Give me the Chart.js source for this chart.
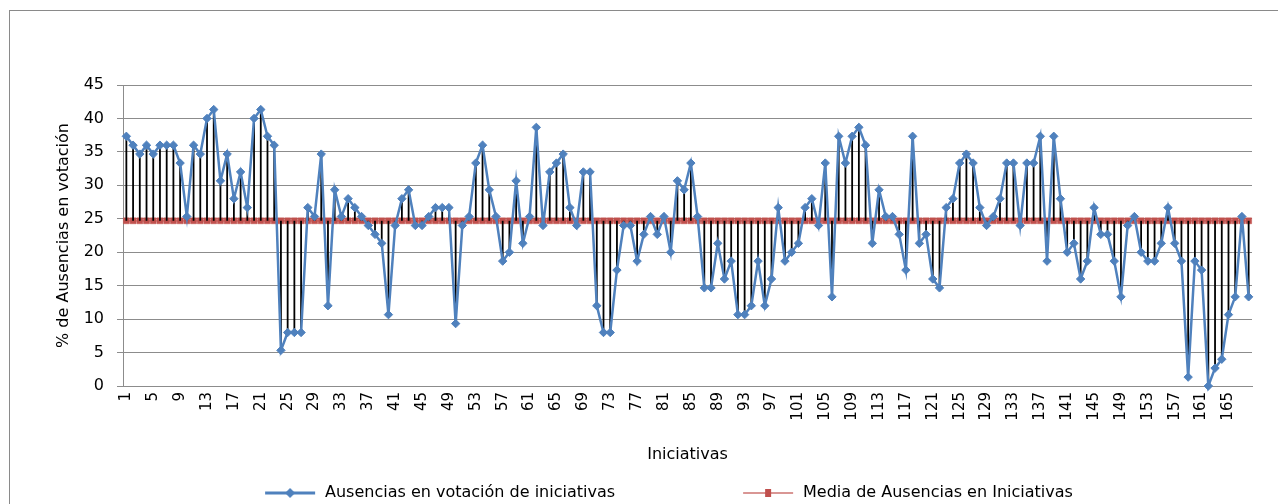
<!DOCTYPE html>
<html>
<head>
<meta charset="utf-8">
<script src="https://cdn.jsdelivr.net/npm/chart.js@4.4.1/dist/chart.umd.min.js"></script>
<style>
html,body{margin:0;padding:0;background:#fff;overflow:hidden;width:1278px;height:504px;}
#frame{position:absolute;left:9px;top:10px;width:1269px;height:494px;border-left:1px solid #8a8a8a;border-top:1px solid #8a8a8a;box-sizing:border-box;}
#wrap{position:absolute;left:0;top:0;width:1278px;height:504px;}
</style>
</head>
<body>
<div id="frame"></div>
<div id="wrap"><canvas id="c" width="1278" height="504"></canvas></div>
<script>
// ---- data ----
const categories = [
  1,2,3,4,5,6,7,8,9,10,11,12,13,14,15,16,17,18,19,20,
  21,22,23,24,25,26,27,28,29,30,31,32,33,34,35,36,37,38,39,40,
  41,42,43,44,45,46,47,48,49,50,51,52,53,54,55,56,57,58,59,60,
  61,62,63,64,65,66,67,68,69,70,71,72,73,74,75,76,77,78,79,80,
  81,82,83,84,85,86,87,88,89,90,91,92,93,94,95,96,97,98,99,100,
  101,102,103,104,105,106,107,108,109,110,111,112,113,114,115,116,117,118,119,120,
  121,122,123,124,125,126,127,128,129,130,131,132,133,134,135,136,137,138,139,140,
  141,142,143,144,145,146,147,148,149,150,151,152,153,154,155,156,157,158,159,160,
  161,162,163,164,165,166,167,168
];
const ausencias = [
  37.33, 36.0, 34.67, 36.0, 34.67, 36.0, 36.0, 36.0, 33.33, 25.33,
  36.0, 34.67, 40.0, 41.33, 30.67, 34.67, 28.0, 32.0, 26.67, 40.0,
  41.33, 37.33, 36.0, 5.33, 8.0, 8.0, 8.0, 26.67, 25.33, 34.67,
  12.0, 29.33, 25.33, 28.0, 26.67, 25.33, 24.0, 22.67, 21.33, 10.67,
  24.0, 28.0, 29.33, 24.0, 24.0, 25.33, 26.67, 26.67, 26.67, 9.33,
  24.0, 25.33, 33.33, 36.0, 29.33, 25.33, 18.67, 20.0, 30.67, 21.33,
  25.33, 38.67, 24.0, 32.0, 33.33, 34.67, 26.67, 24.0, 32.0, 32.0,
  12.0, 8.0, 8.0, 17.33, 24.0, 24.0, 18.67, 22.67, 25.33, 22.67,
  25.33, 20.0, 30.67, 29.33, 33.33, 25.33, 14.67, 14.67, 21.33, 16.0,
  18.67, 10.67, 10.67, 12.0, 18.67, 12.0, 16.0, 26.67, 18.67, 20.0,
  21.33, 26.67, 28.0, 24.0, 33.33, 13.33, 37.33, 33.33, 37.33, 38.67,
  36.0, 21.33, 29.33, 25.33, 25.33, 22.67, 17.33, 37.33, 21.33, 22.67,
  16.0, 14.67, 26.67, 28.0, 33.33, 34.67, 33.33, 26.67, 24.0, 25.33,
  28.0, 33.33, 33.33, 24.0, 33.33, 33.33, 37.33, 18.67, 37.33, 28.0,
  20.0, 21.33, 16.0, 18.67, 26.67, 22.67, 22.67, 18.67, 13.33, 24.0,
  25.33, 20.0, 18.67, 18.67, 21.33, 26.67, 21.33, 18.67, 1.33, 18.67,
  17.33, 0, 2.67, 4.0, 10.67, 13.33, 25.33, 13.33
];
const mediaValue = 24.7;
const media = categories.map(() => mediaValue);
const xTickLabels = ['1','5','9','13','17','21','25','29','33','37','41','45','49','53','57','61','65','69','73','77','81','85','89','93','97','101','105','109','113','117','121','125','129','133','137','141','145','149','153','157','161','165'];
const yTickValues = [0,5,10,15,20,25,30,35,40,45];
const seriesNames = ['Ausencias en votación de iniciativas', 'Media de Ausencias en Iniciativas'];
const xTitle = 'Iniciativas';
const yTitle = '% de Ausencias en votación';

// ---- styling / layout ----
const FAMILY = "'DejaVu Sans', sans-serif";
const BLUE = '#4F81BD';
const RED = '#C0504D';
const RED_LINE = '#D99694';
const GRID = '#8C8C8C';

const mctx = document.createElement('canvas').getContext('2d');
mctx.font = '16px ' + FAMILY;
const t1 = mctx.measureText(seriesNames[0]).width;
const t2 = mctx.measureText(seriesNames[1]).width;
const LP = Math.max(2, 602 - t1 - t2);      // legend padding
const LW = Math.max(60, 470 - t1 - LP);      // legend symbol box width

function legendImg(kind) {
  const c = document.createElement('canvas');
  c.width = Math.round(LW); c.height = 14;
  const g = c.getContext('2d');
  const x0 = c.width - 52, x1 = c.width - 2, cx = c.width - 27, cy = 7;
  g.beginPath(); g.moveTo(x0, cy); g.lineTo(x1, cy);
  if (kind === 'blue') {
    g.strokeStyle = BLUE; g.lineWidth = 3; g.stroke();
    g.beginPath(); g.moveTo(cx, cy - 5); g.lineTo(cx + 5, cy); g.lineTo(cx, cy + 5); g.lineTo(cx - 5, cy); g.closePath();
    g.fillStyle = BLUE; g.fill();
  } else {
    g.strokeStyle = RED_LINE; g.lineWidth = 2; g.stroke();
    g.fillStyle = RED; g.fillRect(cx - 3, cy - 4, 6, 8);
  }
  return c;
}
const blueImg = legendImg('blue');
const redImg = legendImg('red');

new Chart(document.getElementById('c'), {
  data: {
    labels: categories,
    datasets: [
      {
        type: 'line', label: seriesNames[0], data: ausencias, order: 0,
        borderColor: BLUE, borderWidth: 2.5, backgroundColor: BLUE,
        pointStyle: 'rectRot', pointRadius: 4.2, pointBorderWidth: 1, pointBackgroundColor: BLUE, pointBorderColor: BLUE,
        tension: 0, clip: false
      },
      {
        type: 'bar', label: 'hl', data: ausencias.map(v => [mediaValue, v]), order: 1,
        backgroundColor: '#000', borderWidth: 0, barThickness: 1.8, inflateAmount: 0
      },
      {
        type: 'line', label: seriesNames[1], data: media, order: 2,
        borderColor: RED_LINE, borderWidth: 2, backgroundColor: RED,
        pointStyle: 'rect', pointRadius: 4.2, pointBorderWidth: 0.5, pointBackgroundColor: RED, pointBorderColor: RED,
        clip: false
      }
    ]
  },
  options: {
    responsive: false,
    animation: false,
    devicePixelRatio: 1,
    layout: { padding: { top: 85, right: 26, bottom: -7, left: 0 } },
    plugins: {
      tooltip: { enabled: false },
      legend: {
        position: 'bottom',
        align: 'center',
        labels: {
          usePointStyle: true,
          pointStyleWidth: LW,
          padding: LP,
          color: '#000',
          font: { family: FAMILY, size: 16 },
          generateLabels: () => [
            { text: seriesNames[0], pointStyle: blueImg, fillStyle: 'rgba(0,0,0,0)', strokeStyle: 'rgba(0,0,0,0)', lineWidth: 0, hidden: false, datasetIndex: 0, fontColor: '#000' },
            { text: seriesNames[1], pointStyle: redImg, fillStyle: 'rgba(0,0,0,0)', strokeStyle: 'rgba(0,0,0,0)', lineWidth: 0, hidden: false, datasetIndex: 2, fontColor: '#000' }
          ]
        }
      }
    },
    scales: {
      x: {
        type: 'category',
        offset: true,
        grid: { display: false, drawTicks: false },
        border: { display: true, color: GRID, width: 1 },
        ticks: {
          autoSkip: false, minRotation: 90, maxRotation: 90, padding: 6,
          color: '#000', font: { family: FAMILY, size: 15 },
          callback: function (val, idx) {
            const lab = String(this.getLabelForValue(val));
            return xTickLabels.includes(lab) ? lab : '';
          }
        },
        title: { display: true, text: xTitle, color: '#000', font: { family: FAMILY, size: 16 }, padding: { top: 0, bottom: 20.4 - LP } },
        afterFit: (s) => { s.height = 99 - LP; }
      },
      y: {
        min: 0, max: 45,
        afterBuildTicks: (s) => { s.ticks = yTickValues.map(v => ({ value: v })); },
        grid: { color: GRID, lineWidth: 1, drawTicks: true, tickLength: 6, tickColor: GRID },
        border: { display: true, color: GRID, width: 1 },
        ticks: { padding: 13, color: '#000', font: { family: FAMILY, size: 16 } },
        title: { display: true, text: yTitle, color: '#000', font: { family: FAMILY, size: 16 }, padding: { top: 54.4, bottom: 0 } },
        afterFit: (s) => { s.width = 123; }
      }
    }
  }
});
</script>
</body>
</html>
